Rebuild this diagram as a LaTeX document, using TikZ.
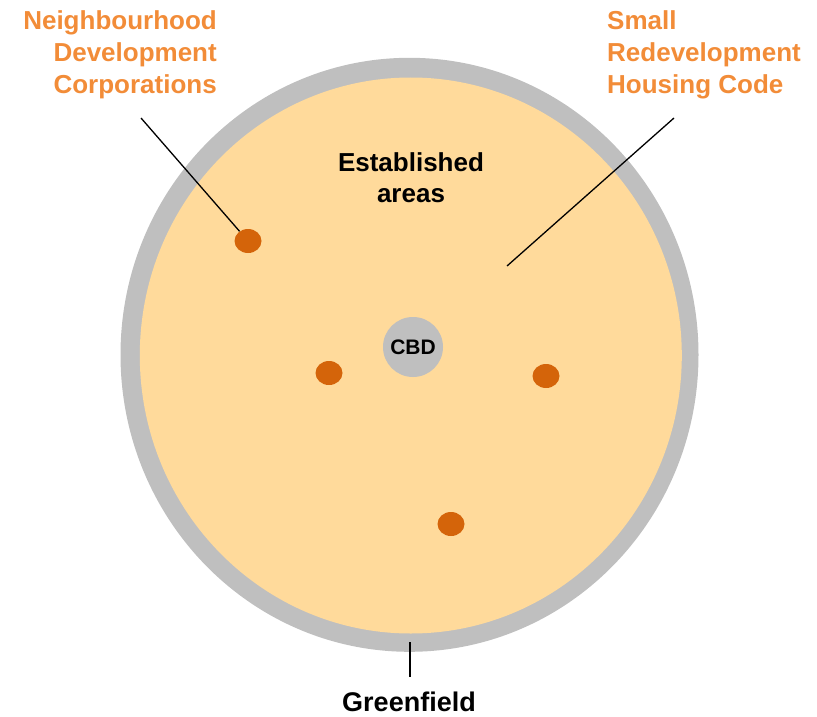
\documentclass[tikz,border=0pt]{standalone}
\usepackage{xcolor}
\usepackage{fontspec}
\setmainfont{Liberation Sans}
\usepackage{tikz}
\usetikzlibrary{shapes.geometric}

\definecolor{ringgray}{RGB}{191,191,191}
\definecolor{areafill}{RGB}{255,218,155}
\definecolor{labelorange}{RGB}{242,140,56}
\definecolor{dotorange}{RGB}{212,100,10}

\tikzset{
  sitedot/.style={ellipse, fill=dotorange, draw=none, inner sep=0pt, minimum width=27pt, minimum height=24pt},
  orangelabel/.style={draw=none, text=labelorange, font=\fontsize{26}{32}\selectfont\bfseries, inner sep=0pt},
  blacklabel/.style={draw=none, text=black, font=\fontsize{26}{31}\selectfont\bfseries, inner sep=0pt, align=center}
}

\begin{document}
\begin{tikzpicture}[x=1pt,y=-1pt]
             \useasboundingbox (0,0) rectangle (817,717);

             % greenfield ring and established areas
             \fill[ringgray] (409.5,354.8) ellipse [x radius=289, y radius=297];
             \fill[areafill] (410.8,355.5) ellipse [x radius=271, y radius=278];

             \node[circle, fill=ringgray, inner sep=0pt, minimum size=60pt,
                   font=\fontsize{21}{24}\selectfont\bfseries] (cbd) at (413,347) {CBD};
             \node[blacklabel] (established) at (411,178) {Established\\areas};

             \node[sitedot] (ndc) at (248,241) {};
             \node[sitedot] (west) at (329,373) {};
             \node[sitedot] (east) at (546,376) {};
             \node[sitedot] (south) at (451,524) {};

             \node[orangelabel, align=right, anchor=east] (ndlabel) at (217,55) {Neighbourhood\\Development\\Corporations};
             \node[orangelabel, align=left, anchor=west] (srhclabel) at (607,55) {Small\\Redevelopment\\Housing Code};
             \node[blacklabel, font=\fontsize{27}{31}\selectfont\bfseries] (greenfield) at (409,702) {Greenfield};

             \coordinate (ndtip) at (141,118);
             \coordinate (srhctip) at (674,118);
             \coordinate (srhcend) at (507,266);
             \coordinate (gftop) at (410,642);
             \coordinate (gfbottom) at (410,677);

             \draw[line width=1.3pt] (ndtip) -- (ndc);
             \draw[line width=1.3pt] (srhctip) -- (srhcend);
             \draw[line width=1.3pt] (gftop) -- (gfbottom);
\end{tikzpicture}
\end{document}
